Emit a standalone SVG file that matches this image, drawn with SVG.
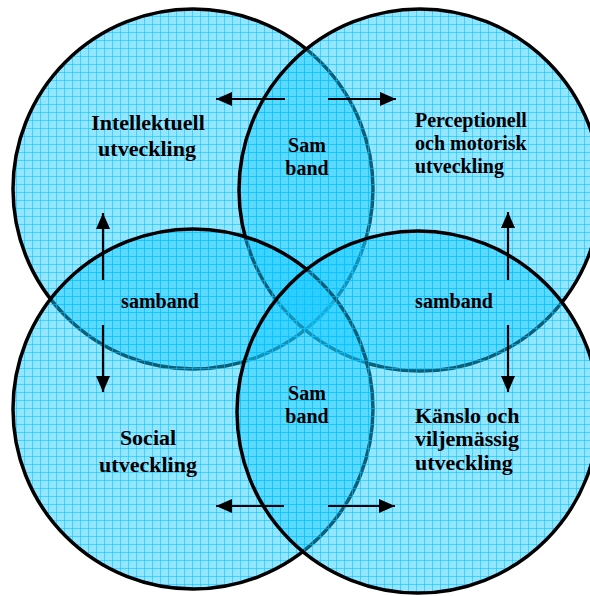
<svg xmlns="http://www.w3.org/2000/svg" width="590" height="596" viewBox="0 0 590 596">
  <style>
    .c { fill: url(#grid); stroke: #000; stroke-width: 3.5; }
    .t { font-family: "Liberation Serif", "Times New Roman", serif; font-weight: bold; fill: #000; }
    .g { font-size: 22px; }
    .s { font-size: 20px; }
    .mid { text-anchor: middle; }
    .arr { stroke: #000; stroke-width: 2.2; fill: none; marker-end: url(#ah); }
  </style>
  <defs>
    <pattern id="grid" x="0" y="0" width="8" height="8" patternUnits="userSpaceOnUse">
      <rect width="8" height="8" fill="#1ccbff" fill-opacity="0.47"/>
      <rect width="8" height="1" fill="#00c0ff" fill-opacity="0.55"/>
      <rect width="1" height="8" fill="#00c0ff" fill-opacity="0.55"/>
    </pattern>
    <marker id="ah" viewBox="0 0 16 14" markerWidth="16" markerHeight="14" refX="16" refY="7" orient="auto" markerUnits="userSpaceOnUse">
      <path d="M0,0 L16,7 L0,14 Z" fill="#000"/>
    </marker>
  </defs>
  <rect width="590" height="596" fill="#fff"/>

  <g id="intellektuell">
    <circle class="c" cx="193" cy="189" r="180"/>
  </g>
  <g id="perceptionell">
    <circle class="c" cx="420" cy="190" r="181"/>
  </g>
  <g id="social">
    <circle class="c" cx="193" cy="409" r="180"/>
  </g>
  <g id="kanslo">
    <circle class="c" cx="418" cy="412" r="181"/>
  </g>

  <g id="labels">
    <text class="t g mid" x="148" y="130">Intellektuell</text>
    <text class="t g mid" x="147" y="156">utveckling</text>
    <text class="t s mid" x="307" y="152">Sam</text>
    <text class="t s mid" x="307" y="175">band</text>
    <text class="t s mid" x="160" y="308">samband</text>
    <text class="t s mid" x="454" y="308">samband</text>
    <text class="t s" x="415" y="127">Perceptionell</text>
    <text class="t s" x="415" y="150">och motorisk</text>
    <text class="t s" x="415" y="173">utveckling</text>
    <text class="t s mid" x="307" y="400">Sam</text>
    <text class="t s mid" x="307" y="423">band</text>
    <text class="t g mid" x="148" y="445">Social</text>
    <text class="t g mid" x="148" y="472">utveckling</text>
    <text class="t g" x="415" y="423">Känslo och</text>
    <text class="t g" x="415" y="446">viljemässig</text>
    <text class="t g" x="415" y="470">utveckling</text>
  </g>

  <g id="connectors">
    <line class="arr" x1="285" y1="99" x2="216" y2="99"/>
    <line class="arr" x1="328" y1="99" x2="396" y2="99"/>
    <line class="arr" x1="103" y1="280" x2="103" y2="213"/>
    <line class="arr" x1="103" y1="325" x2="103" y2="392"/>
    <line class="arr" x1="508" y1="280" x2="508" y2="212"/>
    <line class="arr" x1="508" y1="325" x2="508" y2="392"/>
    <line class="arr" x1="284" y1="506" x2="216" y2="506"/>
    <line class="arr" x1="328" y1="506" x2="395" y2="506"/>
  </g>
</svg>
